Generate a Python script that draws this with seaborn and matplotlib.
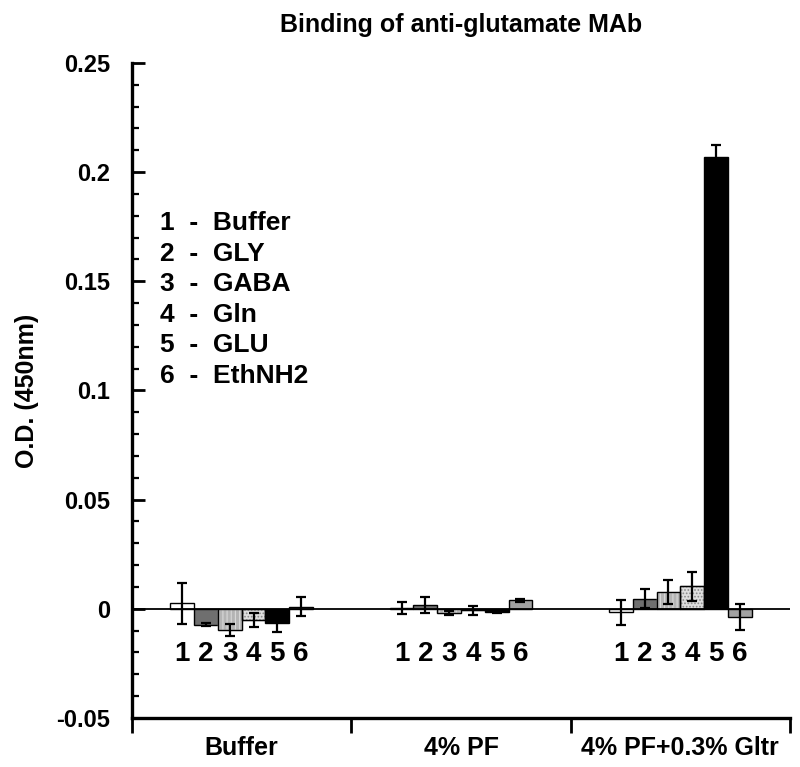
import seaborn as sns
import matplotlib.pyplot as plt
import matplotlib.ticker as mticker
from matplotlib.patches import Rectangle
import pandas as pd

# data
conditions = ['Buffer', '4% PF', '4% PF+0.3% Gltr']
compounds = ['Buffer', 'GLY', 'GABA', 'Gln', 'GLU', 'EthNH2']

od_buffer = [0.0025, -0.0073, -0.0096, -0.0050, -0.0065, 0.0010]
err_buffer = [0.0095, 0.0006, 0.0027, 0.0031, 0.0040, 0.0043]
od_pf = [0.0005, 0.0018, -0.0019, -0.0006, -0.0013, 0.0039]
err_pf = [0.0028, 0.0037, 0.0008, 0.0021, 0.0004, 0.0007]
od_gltr = [-0.0016, 0.0047, 0.0077, 0.0104, 0.2069, -0.0037]
err_gltr = [0.0057, 0.0043, 0.0055, 0.0066, 0.0056, 0.0060]

face = ['white', '#6f6f6f', '#b4b4b4', '#dedede', 'black', '#a2a2a2']
hatch = [None, None, '||||', '.....', None, None]
hatch_col = [None, None, '#d8d8d8', '#8a8a8a', None, None]

sns.set_style('ticks')
plt.rcParams['font.family'] = ['Liberation Sans', 'DejaVu Sans']
plt.rcParams['font.weight'] = 'bold'
plt.rcParams['hatch.linewidth'] = 0.8
for key in ['text.color', 'axes.labelcolor', 'xtick.color', 'ytick.color', 'axes.edgecolor']:
    plt.rcParams[key] = 'black'

rows = []
for cond, vals, errs in zip(conditions, [od_buffer, od_pf, od_gltr],
                            [err_buffer, err_pf, err_gltr]):
    for comp, v, e in zip(compounds, vals, errs):
        rows.append({'condition': cond, 'compound': comp, 'od': v, 'err': e})
df = pd.DataFrame(rows)

fig = plt.figure(figsize=(8, 7.67), dpi=100)
ax = fig.add_axes([132 / 800, 49 / 767, 658 / 800, 655 / 767])

sns.barplot(data=df, x='condition', y='od', hue='compound', order=conditions,
            hue_order=compounds, palette=face, width=0.65, errorbar=None,
            edgecolor='black', linewidth=1, legend=False, ax=ax, zorder=2)

xs, ys, es = [], [], []
for j, cont in enumerate(ax.containers):
    for i, bar in enumerate(cont):
        if hatch[j]:
            bar.set_hatch(hatch[j])
            bar.set_edgecolor(hatch_col[j])
            ax.add_patch(Rectangle((bar.get_x(), bar.get_y()), bar.get_width(),
                                   bar.get_height(), fill=False,
                                   edgecolor='black', linewidth=1, zorder=2.5))
        row = df[(df.condition == conditions[i]) & (df.compound == compounds[j])].iloc[0]
        cx = bar.get_x() + bar.get_width() / 2
        xs.append(cx)
        ys.append(row.od)
        es.append(row.err)
        ax.text(cx, -0.0206, str(j + 1), ha='center', va='center',
                fontsize=20, fontweight='bold')

ax.errorbar(xs, ys, yerr=es, fmt='none', ecolor='black', elinewidth=1.6,
            capsize=3.4, capthick=1.6, zorder=4)
ax.axhline(0, color='black', linewidth=1.3, zorder=3)

# compound key
for k, comp in enumerate(compounds):
    ax.text(0.043, 0.755 - k * 0.0465, f'{k + 1}  -  {comp}', transform=ax.transAxes,
            ha='left', va='center', fontsize=19, fontweight='bold')

ax.set_xlim(-0.5, 2.5)
ax.set_ylim(-0.05, 0.25)
ax.yaxis.set_major_locator(mticker.MultipleLocator(0.05))
ax.yaxis.set_minor_locator(mticker.MultipleLocator(0.01))
ax.yaxis.set_major_formatter(mticker.FuncFormatter(lambda v, p: f'{v:g}' if abs(v) > 1e-9 else '0'))
ax.set_xticks([-0.5, 0.5, 1.5, 2.5], minor=True)
ax.tick_params(axis='x', which='major', length=0, pad=13, labelsize=18)
ax.tick_params(axis='x', which='minor', direction='out', length=11, width=2)
ax.tick_params(axis='y', which='major', direction='in', length=9, width=2,
               pad=16, labelsize=17)
ax.tick_params(axis='y', which='minor', direction='in', length=5, width=1.6)
for lab in ax.get_xticklabels() + ax.get_yticklabels():
    lab.set_fontweight('bold')

sns.despine(ax=ax)
ax.spines['left'].set_linewidth(2.4)
ax.spines['bottom'].set_linewidth(2.4)

ax.set_xlabel('')
ax.set_ylabel('O.D. (450nm)', fontsize=18, fontweight='bold', labelpad=12)
ax.set_title('Binding of anti-glutamate MAb', fontsize=18, fontweight='bold', pad=22)

fig.savefig('out.png', dpi=100)
